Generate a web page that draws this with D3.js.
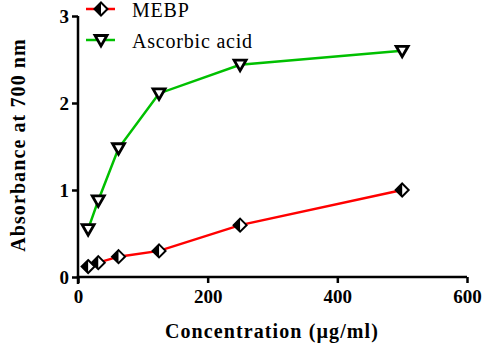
<!DOCTYPE html>
<html>
<head>
<script src="https://d3js.org/d3.v7.min.js"></script>
<style>
  html, body { margin: 0; background: #fff; }
</style>
</head>
<body>
<svg id="svg"></svg>
<script>
const concentrations = [15.625, 31.25, 62.5, 125, 250, 500];
const mebp = [0.12, 0.165, 0.234, 0.30, 0.596, 1.00];
const ascorbic = [0.55, 0.88, 1.48, 2.11, 2.44, 2.60];
const xTicks = [0, 200, 400, 600];
const yTicks = [0, 1, 2, 3];

const width = 484, height = 344;
const serif = "Liberation Serif";
const svg = d3.select("#svg").attr("width", width).attr("height", height);

const x = d3.scaleLinear().domain([0, 600]).range([78, 467]);
const y = d3.scaleLinear().domain([0, 3]).range([277, 16]);

// axes
const xAxis = svg.append("g").attr("transform", `translate(0, ${y(0)})`)
  .call(d3.axisBottom(x).tickValues(xTicks).tickFormat(d3.format("d"))
    .tickSize(6).tickSizeOuter(0).tickPadding(7));
const yAxis = svg.append("g").attr("transform", `translate(${x(0)}, 0)`)
  .call(d3.axisLeft(y).tickValues(yTicks).tickFormat(d3.format("d"))
    .tickSize(6).tickSizeOuter(0).tickPadding(3));

[xAxis, yAxis].forEach(a => {
  a.attr("font-family", serif).attr("font-size", 19).attr("font-weight", "bold");
  a.select(".domain").attr("stroke", "#000").attr("stroke-width", 2.5);
  a.selectAll(".tick line").attr("stroke", "#000").attr("stroke-width", 2.5);
  a.selectAll(".tick text").attr("fill", "#000");
});
// extend domains to cover the corner
xAxis.select(".domain").attr("d", `M${x(0) - 1.25},0H${x(600)}`);
yAxis.select(".domain").attr("d", `M0,${y(3)}V${y(0) + 7}`);

svg.append("text")
  .attr("x", 272).attr("y", 338)
  .attr("text-anchor", "middle")
  .attr("font-family", serif).attr("font-weight", "bold").attr("font-size", 20)
  .attr("letter-spacing", 1.1)
  .text("Concentration (\u00b5g/ml)");

svg.append("text")
  .attr("transform", "translate(25, 145) rotate(-90)")
  .attr("text-anchor", "middle")
  .attr("font-family", serif).attr("font-weight", "bold").attr("font-size", 20)
  .attr("letter-spacing", 1.1)
  .text("Absorbance at 700 nm");

const line = d3.line().x(d => x(d[0])).y(d => y(d[1]));

const diamond = (g, cx, cy) => {
  const r = 6.5;
  g.append("path").attr("d", `M${cx},${cy - r}L${cx + r},${cy}L${cx},${cy + r}L${cx - r},${cy}Z`)
    .attr("fill", "#fff").attr("stroke", "#000").attr("stroke-width", 2);
  g.append("path").attr("d", `M${cx},${cy - r}L${cx - r},${cy}L${cx},${cy + r}Z`)
    .attr("fill", "#000");
};
const triangle = (g, cx, cy) => {
  const r = 6;
  g.append("path").attr("d", `M${cx - r},${cy - r * 0.75}L${cx + r},${cy - r * 0.75}L${cx},${cy + r}Z`)
    .attr("fill", "#fff").attr("stroke", "#000").attr("stroke-width", 2.8)
    .attr("stroke-linejoin", "miter");
};

const series = [
  { name: "MEBP", values: mebp, color: "#ff0000", marker: diamond },
  { name: "Ascorbic acid", values: ascorbic, color: "#00c000", marker: triangle }
];

series.forEach(s => {
  const pts = concentrations.map((c, i) => [c, s.values[i]]);
  svg.append("path").attr("d", line(pts))
    .attr("fill", "none").attr("stroke", s.color).attr("stroke-width", 2.5);
  const g = svg.append("g");
  pts.forEach(p => s.marker(g, x(p[0]), y(p[1])));
});

// legend
const legendY = [9, 40];
series.forEach((s, i) => {
  const ly = legendY[i];
  svg.append("line").attr("x1", 86).attr("x2", 115).attr("y1", ly).attr("y2", ly)
    .attr("stroke", s.color).attr("stroke-width", 2.5);
  s.marker(svg.append("g"), 101, ly);
  svg.append("text").attr("x", 132).attr("y", ly + 8)
    .attr("font-family", serif).attr("font-size", 20).attr("letter-spacing", 0.8)
    .attr("fill", "#000").text(s.name);
});
</script>
</body>
</html>
